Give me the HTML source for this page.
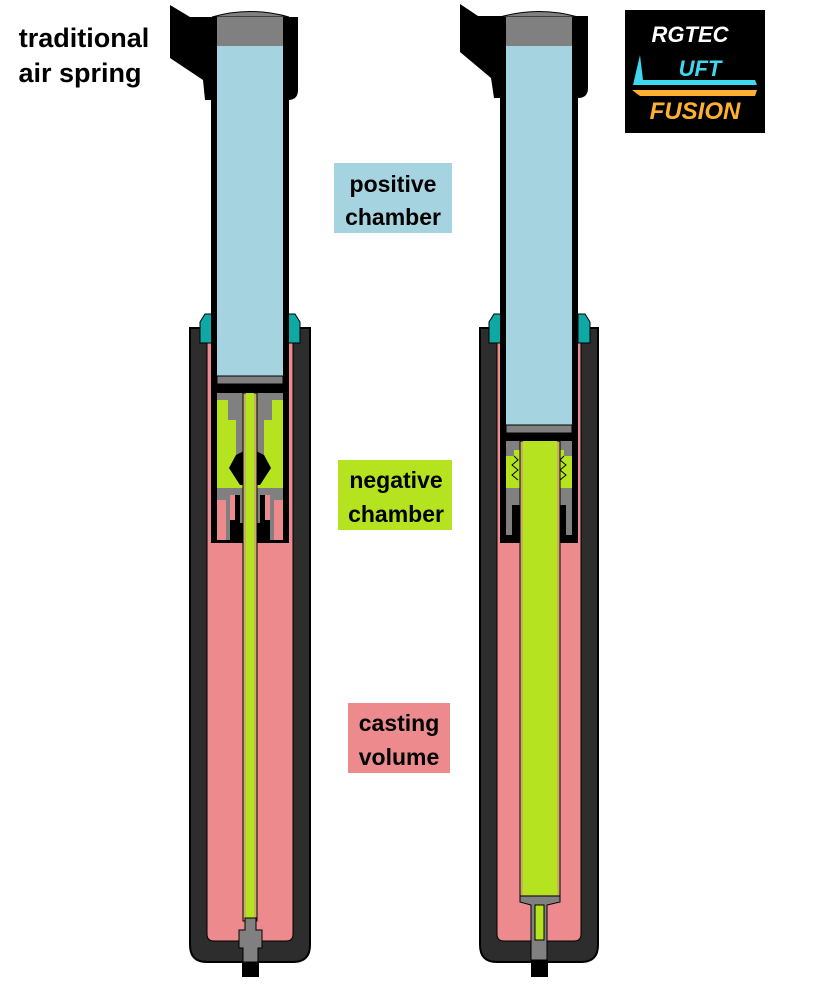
<!DOCTYPE html>
<html><head><meta charset="utf-8"><style>
html,body{margin:0;padding:0;background:#fff;}
svg{display:block}
text{font-family:"Liberation Sans",sans-serif;font-weight:bold;}
</style></head><body>
<svg width="832" height="1000" viewBox="0 0 832 1000" xmlns="http://www.w3.org/2000/svg">
<!-- ============ LEFT FORK ============ -->
<path d="M190,328 L310,328 L310,945 Q310,962 293,962 L207,962 Q190,962 190,945 Z" fill="#2d2d2d" stroke="#000" stroke-width="2"/>
<path d="M207,340 L293,340 L293,934 Q293,941 286,941 L214,941 Q207,941 207,934 Z" fill="#ec8a8e" stroke="#000" stroke-width="1"/>
<path d="M200,343 L200,322 L205,314 L212,314 L212,343 Z" fill="#0ea9a4" stroke="#000" stroke-width="1"/>
<path d="M300,343 L300,322 L295,314 L288,314 L288,343 Z" fill="#0ea9a4" stroke="#000" stroke-width="1"/>
<path d="M170,5 L190,17 L298,17 L298,90 Q298,100 288,100 L205,100 L203,80 L170,58 Z" fill="#000"/>
<rect x="211" y="17" width="78" height="526" fill="#000"/>
<rect x="217" y="46" width="66" height="330" fill="#a5d3df"/>
<path d="M212,17 Q250,6 289,17 Z" fill="#808080" stroke="#000" stroke-width="1"/>
<rect x="217" y="17" width="66" height="29" fill="#808080"/>
<rect x="217" y="376" width="66" height="8" fill="#808080" stroke="#000" stroke-width="1"/>
<rect x="217" y="393" width="66" height="7" fill="#808080"/>
<rect x="217" y="400" width="66" height="88" fill="#b5e31f"/>
<path d="M228,400 L228,420 L236,420 L236,455 L229,468 L240,485 L260,485 L271,468 L264,455 L264,420 L272,420 L272,400 Z" fill="#808080"/>
<path d="M236,455 L229,468 L240,485 L246,485 L246,450 Z M264,455 L271,468 L260,485 L254,485 L254,450 Z" fill="#000"/>
<path d="M217,488 L283,488 L283,540 L270,540 L270,520 L265,520 L265,495 L235,495 L235,520 L230,520 L230,540 L217,540 Z" fill="#808080"/>
<rect x="217" y="495" width="13" height="45" fill="#808080"/>
<rect x="230" y="495" width="5" height="25" fill="#ec8a8e"/>
<rect x="265" y="495" width="5" height="25" fill="#ec8a8e"/>
<rect x="217" y="500" width="9" height="40" fill="#ec8a8e"/>
<rect x="274" y="500" width="9" height="40" fill="#ec8a8e"/>
<rect x="240" y="495" width="20" height="28" fill="#808080"/>
<rect x="243" y="393" width="14" height="528" fill="#c8b060" stroke="#000" stroke-width="1"/>
<rect x="246" y="393" width="8" height="528" fill="#b5e31f"/>
<path d="M245,918 L256,918 L256,930 L262,930 L262,948 L258,948 L258,962 L243,962 L243,948 L239,948 L239,930 L245,930 Z" fill="#808080" stroke="#000" stroke-width="1"/>
<rect x="242" y="962" width="17" height="15" fill="#000"/>

<!-- ============ RIGHT FORK ============ -->
<path d="M480,328 L598,328 L598,945 Q598,962 581,962 L497,962 Q480,962 480,945 Z" fill="#2d2d2d" stroke="#000" stroke-width="2"/>
<path d="M497,340 L581,340 L581,934 Q581,941 574,941 L504,941 Q497,941 497,934 Z" fill="#ec8a8e" stroke="#000" stroke-width="1"/>
<path d="M489,343 L489,322 L494,314 L501,314 L501,343 Z" fill="#0ea9a4" stroke="#000" stroke-width="1"/>
<path d="M590,343 L590,322 L585,314 L578,314 L578,343 Z" fill="#0ea9a4" stroke="#000" stroke-width="1"/>
<path d="M460,4 L478,16 L588,16 L588,88 Q588,98 578,98 L494,98 L491,78 L460,52 Z" fill="#000"/>
<rect x="500" y="16" width="78" height="527" fill="#000"/>
<rect x="506" y="46" width="66" height="379" fill="#a5d3df"/>
<path d="M500,17 Q539,6 578,17 Z" fill="#808080" stroke="#000" stroke-width="1"/>
<rect x="506" y="17" width="66" height="29" fill="#808080"/>
<rect x="506" y="425" width="66" height="8" fill="#808080" stroke="#000" stroke-width="1"/>
<rect x="506" y="441" width="66" height="9" fill="#808080"/>
<rect x="506" y="450" width="66" height="38" fill="#b5e31f"/>
<rect x="506" y="450" width="8" height="6" fill="#808080"/>
<rect x="564" y="450" width="8" height="6" fill="#808080"/>
<path d="M514,456 L518,460 L512,465 L518,470 L512,475 L518,480 M564,456 L560,460 L566,465 L560,470 L566,475 L560,480" fill="none" stroke="#000" stroke-width="1"/>
<path d="M506,488 L572,488 L572,535 L566,535 L566,505 L512,505 L512,535 L506,535 Z" fill="#808080"/>
<rect x="506" y="505" width="6" height="30" fill="#808080"/>
<!-- wide rod -->
<rect x="520" y="441" width="40" height="457" fill="#c8b060" stroke="#000" stroke-width="1"/>
<rect x="523" y="441" width="34" height="454" fill="#b5e31f"/>
<path d="M520,896 L560,896 L560,902 L547,905 L547,960 L531,960 L531,905 L520,902 Z" fill="#808080" stroke="#000" stroke-width="1"/>
<rect x="535" y="905" width="9" height="35" fill="#b5e31f" stroke="#000" stroke-width="1"/>
<rect x="531" y="960" width="17" height="17" fill="#000"/>

<!-- ============ LABELS ============ -->
<text x="84" y="47" font-size="27" text-anchor="middle" fill="#000">traditional</text>
<text x="80" y="82" font-size="27" text-anchor="middle" fill="#000">air spring</text>
<rect x="334" y="163" width="118" height="70" fill="#a5d3df"/>
<text x="393" y="192" font-size="23" text-anchor="middle">positive</text>
<text x="393" y="225" font-size="23" text-anchor="middle">chamber</text>
<rect x="338" y="460" width="114" height="70" fill="#b5e31f"/>
<text x="396" y="488" font-size="23" text-anchor="middle">negative</text>
<text x="396" y="522" font-size="23" text-anchor="middle">chamber</text>
<rect x="348" y="703" width="102" height="70" fill="#ec8a8e"/>
<text x="399" y="731" font-size="23" text-anchor="middle">casting</text>
<text x="399" y="765" font-size="23" text-anchor="middle">volume</text>

<rect x="625" y="10" width="140" height="123" fill="#000"/>
<text x="690" y="42" font-size="22" font-style="italic" text-anchor="middle" fill="#fff">RGTEC</text>
<path d="M640,55 L633,85 L757,85 L755,80 L643,80 Z" fill="#3fd8f0"/>
<text x="700" y="76" font-size="22" font-style="italic" text-anchor="middle" fill="#3fd8f0">UFT</text>
<path d="M632,90 L757,90 L755,96 L640,96 Z" fill="#ffb030"/>
<text x="695" y="119" font-size="24" font-style="italic" text-anchor="middle" fill="#ffb030">FUSION</text>
</svg>
</body></html>
